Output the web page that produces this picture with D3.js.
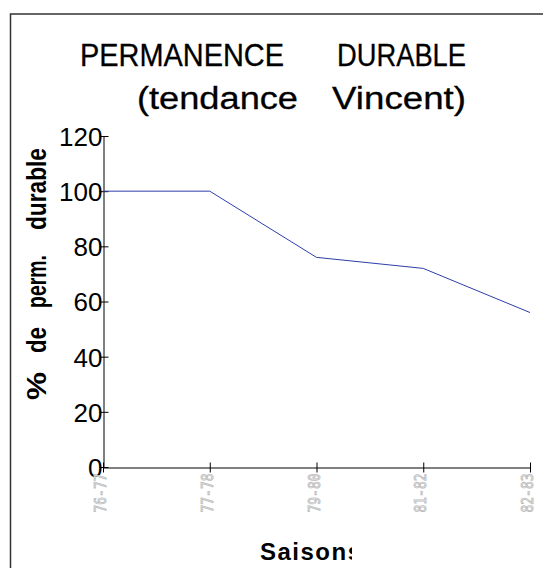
<!DOCTYPE html>
<html><head><meta charset="utf-8">
<script src="https://cdn.jsdelivr.net/npm/d3@7"></script>
<style>html,body{margin:0;padding:0;background:#fff;overflow:hidden}</style>
</head><body>
<script>
const seasons = ["76-77", "77-78", "79-80", "81-82", "82-83"];
const values = [100, 100, 76, 72, 56];
const yTicks = [0, 20, 40, 60, 80, 100, 120];
const titleLine1 = ["PERMANENCE", "DURABLE"];
const titleLine2 = ["(tendance", "Vincent)"];
const yTitleWords = ["%", "de", "perm.", "durable"];
const xTitle = "Saisons";

const W = 543, H = 568;
const svg = d3.select("body").append("svg").attr("width", W).attr("height", H);

// frame
svg.append("rect").attr("x", 10.5).attr("y", 14).attr("width", 700).attr("height", 700)
  .attr("fill", "none").attr("stroke", "#333").attr("stroke-width", 1.5);

const x = d3.scalePoint().domain(seasons).range([103, 530]);
const y = d3.scaleLinear().domain([0, 120]).range([467, 136]);

// title: each word laid out on its own span
const titleFont = "Liberation Sans, Arial, sans-serif";
const titleLayout = [
  { words: titleLine1, y: 66, xs: [80, 337], lens: [204, 129] },
  { words: titleLine2, y: 109, xs: [137, 332], lens: [161, 134] }
];
titleLayout.forEach(L => {
  const t = svg.append("text").attr("y", L.y)
    .attr("font-family", titleFont).attr("font-size", 31).attr("fill", "#000")
    .attr("stroke", "#000").attr("stroke-width", 0.3);
  t.selectAll("tspan").data(L.words).join("tspan")
    .attr("x", (d, i) => L.xs[i])
    .attr("textLength", (d, i) => L.lens[i])
    .attr("lengthAdjust", "spacingAndGlyphs")
    .text(d => d);
});

// y axis
const yAxis = svg.append("g").attr("transform", "translate(103.5,0)")
  .call(d3.axisLeft(y).tickValues(yTicks).tickSize(0).tickPadding(0));
yAxis.select(".domain").attr("stroke", "#000");
yAxis.selectAll(".tick text")
  .attr("font-family", "Liberation Sans, Arial, sans-serif")
  .attr("font-size", 26).attr("fill", "#000").attr("x", -1).attr("dy", "0.36em");
yAxis.selectAll(".tick").append("line").attr("x1", -4).attr("x2", 5).attr("stroke", "#000");

// x axis
const xAxis = svg.append("g").attr("transform", "translate(0,467.5)")
  .call(d3.axisBottom(x).tickSize(0).tickPadding(0));
xAxis.select(".domain").attr("stroke", "#000");
xAxis.selectAll(".tick").append("line").attr("y1", -5).attr("y2", 5).attr("stroke", "#000");
xAxis.selectAll(".tick text")
  .attr("transform", "rotate(-90)")
  .attr("x", -6).attr("y", -2).attr("dy", "0.3em")
  .attr("text-anchor", "end")
  .attr("font-family", "DejaVu Sans Mono, monospace")
  .attr("font-size", 15)
  .attr("textLength", 39).attr("lengthAdjust", "spacingAndGlyphs")
  .attr("fill", "#fff").attr("stroke", "#bdbdbd").attr("stroke-width", 0.9);

// line
const line = d3.line().x((d, i) => x(seasons[i])).y(d => y(d));
svg.append("path").datum(values).attr("d", line)
  .attr("fill", "none").attr("stroke", "#2e3ea8").attr("stroke-width", 1);

// y title (rotated, word by word)
const yWordStart = [-400, -353, -308, -230];
const yWordLen = [28, 26, 53, 82];
const yt = svg.append("text").attr("transform", "translate(46,0) rotate(-90)")
  .attr("font-family", "Liberation Sans, Arial, sans-serif")
  .attr("font-weight", "bold").attr("font-size", 27).attr("fill", "#000");
yt.selectAll("tspan").data(yTitleWords).join("tspan")
  .attr("x", (d, i) => yWordStart[i])
  .attr("textLength", (d, i) => yWordLen[i])
  .attr("lengthAdjust", "spacingAndGlyphs")
  .text(d => d);

// x title (clipped like the reference)
svg.append("clipPath").attr("id", "xclip").append("rect")
  .attr("x", 200).attr("y", 520).attr("width", 152).attr("height", 48);
svg.append("text").attr("x", 260).attr("y", 560)
  .attr("clip-path", "url(#xclip)")
  .attr("font-family", "Liberation Sans, Arial, sans-serif")
  .attr("font-weight", "bold").attr("font-size", 24).attr("letter-spacing", 1.5).attr("fill", "#000")
  .text(xTitle);
</script>
</body></html>
